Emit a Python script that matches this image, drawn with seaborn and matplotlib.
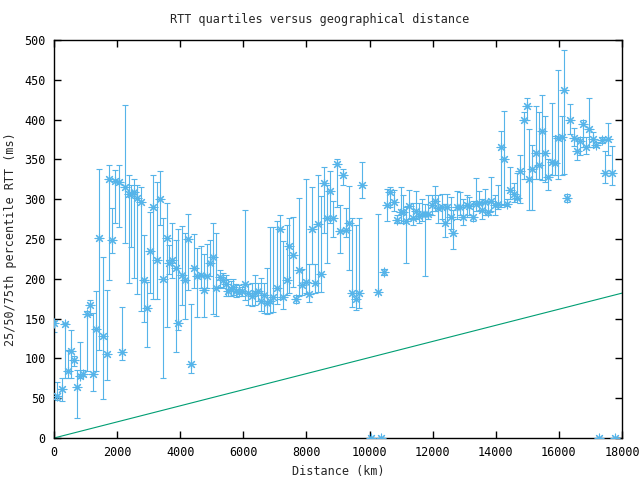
import matplotlib
matplotlib.use("Agg")
import matplotlib.pyplot as plt
import seaborn as sns
import numpy as np
import pandas as pd

# distance (km)
distance_km = [0, 105, 244, 349, 453, 529, 643, 738, 824, 929,
               1046, 1141, 1245, 1331, 1436, 1562, 1670, 1752, 1838, 1943,
               2050, 2164, 2260, 2367, 2431, 2545, 2640, 2767, 2862, 2957,
               3042, 3147, 3255, 3350, 3464, 3571, 3654, 3749, 3857, 3939,
               4066, 4161, 4256, 4351, 4446, 4541, 4658, 4763, 4858, 4953,
               5048, 5143, 5251, 5346, 5451, 5524, 5609, 5682, 5768, 5863,
               5948, 6053, 6157, 6265, 6370, 6455, 6560, 6655, 6759, 6845,
               6950, 7057, 7162, 7266, 7374, 7457, 7564, 7659, 7774, 7869,
               7976, 8071, 8166, 8262, 8376, 8461, 8566, 8661, 8756, 8851,
               8959, 9073, 9168, 9263, 9358, 9453, 9561, 9675, 9770, 10036,
               10277, 10372, 10467, 10562, 10657, 10765, 10879, 10996, 11069, 11155,
               11250, 11367, 11472, 11567, 11652, 11757, 11843, 11969, 12074, 12179,
               12286, 12381, 12464, 12571, 12654, 12762, 12866, 12971, 13079, 13161,
               13269, 13373, 13468, 13573, 13658, 13763, 13858, 13966, 14070, 14165,
               14261, 14365, 14460, 14577, 14682, 14768, 14894, 14980, 15053, 15158,
               15265, 15370, 15474, 15560, 15665, 15772, 15877, 15981, 16089, 16171,
               16266, 16361, 16488, 16583, 16678, 16773, 16869, 16964, 17090, 17176,
               17262, 17376, 17462, 17566, 17692, 17768]

# median RTT (ms)
rtt_median = [145, 53, 61, 143, 84, 109, 98, 64, 78, 80,
              156, 167, 80, 137, 251, 128, 105, 325, 249, 323,
              321, 108, 315, 307, 307, 309, 302, 297, 199, 163,
              235, 290, 224, 300, 200, 251, 220, 223, 213, 145,
              205, 198, 250, 93, 213, 204, 205, 186, 204, 220,
              227, 188, 202, 198, 193, 185, 187, 190, 185, 184,
              185, 194, 182, 179, 182, 185, 172, 180, 169, 172,
              177, 189, 263, 177, 198, 241, 230, 174, 211, 192,
              196, 181, 263, 195, 269, 206, 320, 277, 310, 276,
              344, 260, 330, 261, 270, 182, 174, 182, 318, 0,
              184, 0, 208, 293, 309, 297, 274, 284, 284, 272,
              291, 277, 285, 279, 281, 281, 281, 293, 298, 289,
              290, 270, 290, 278, 257, 290, 290, 278, 293, 292,
              278, 294, 295, 286, 296, 284, 298, 293, 294, 365,
              350, 294, 312, 307, 302, 335, 400, 417, 325, 338,
              358, 343, 386, 358, 328, 347, 345, 377, 378, 437,
              301, 399, 377, 361, 373, 395, 365, 388, 376, 368,
              0, 374, 333, 375, 333, 0]

# 25th percentile RTT (ms)
rtt_q1 = [133, 48, 46, 76, 76, 76, 90, 25, 75, 78,
          84, 155, 59, 84, 111, 49, 73, 198, 233, 270,
          265, 98, 245, 195, 240, 201, 181, 160, 146, 114,
          182, 175, 175, 268, 75, 140, 206, 201, 108, 136,
          167, 149, 186, 82, 189, 152, 188, 152, 188, 203,
          156, 153, 190, 189, 178, 178, 178, 180, 177, 178,
          178, 173, 167, 166, 167, 172, 160, 157, 156, 157,
          158, 168, 174, 162, 180, 182, 190, 170, 178, 180,
          182, 171, 218, 182, 184, 183, 257, 220, 270, 252,
          290, 233, 318, 252, 211, 165, 161, 163, 301, 0,
          184, 0, 205, 273, 290, 285, 270, 270, 270, 220,
          275, 268, 275, 270, 272, 204, 275, 280, 285, 270,
          275, 253, 270, 262, 237, 275, 280, 268, 278, 280,
          272, 285, 285, 275, 280, 280, 285, 280, 288, 290,
          293, 291, 300, 297, 300, 295, 325, 400, 287, 287,
          326, 326, 324, 322, 312, 330, 330, 326, 330, 332,
          296, 382, 367, 349, 355, 365, 357, 365, 365, 365,
          0, 370, 320, 355, 318, 0]

# 75th percentile RTT (ms)
rtt_q3 = [147, 70, 76, 145, 110, 136, 103, 86, 120, 86,
          159, 173, 157, 185, 338, 227, 186, 343, 289, 337,
          343, 164, 418, 330, 318, 325, 318, 315, 255, 196,
          284, 331, 321, 336, 277, 295, 242, 270, 249, 263,
          266, 258, 281, 168, 256, 239, 241, 231, 244, 249,
          270, 258, 211, 207, 205, 200, 197, 200, 194, 192,
          190, 287, 194, 195, 205, 195, 201, 195, 214, 265,
          265, 272, 280, 248, 268, 277, 278, 180, 301, 212,
          325, 218, 315, 218, 330, 304, 340, 318, 336, 298,
          350, 293, 338, 289, 316, 276, 267, 277, 347, 0,
          282, 0, 212, 313, 315, 312, 280, 315, 305, 290,
          312, 295, 310, 295, 300, 294, 305, 305, 316, 305,
          306, 294, 306, 303, 286, 310, 309, 300, 305, 303,
          298, 327, 310, 300, 313, 298, 328, 305, 318, 386,
          411, 300, 340, 320, 333, 355, 410, 427, 388, 368,
          417, 410, 431, 405, 350, 421, 380, 462, 405, 487,
          307, 419, 389, 376, 378, 400, 378, 427, 385, 372,
          0, 378, 360, 396, 367, 0]

# reference line endpoints (distance km, RTT ms)
line_x = [0, 18000]
line_y = [0, 182]

sns.set_theme(style="ticks")
plt.rcParams['font.family'] = ['DejaVu Sans Mono', 'DejaVu Sans']

blue = "#56b4e9"
green = "#009e73"

fig = plt.figure(figsize=(6.4, 4.8), dpi=100)
ax = fig.add_axes([54/640, 42/480, 568/640, 398/480])

df = pd.DataFrame({"d": distance_km, "m": rtt_median, "lo": rtt_q1, "hi": rtt_q3})
yerr = np.vstack([df["m"] - df["lo"], df["hi"] - df["m"]])
ax.errorbar(df["d"], df["m"], yerr=yerr, fmt="none", ecolor=blue,
            elinewidth=0.8, capsize=2.5, capthick=0.8, zorder=2)
sns.scatterplot(data=df, x="d", y="m", ax=ax, marker=(8, 2, 0), s=40,
                color=blue, edgecolor=blue, linewidth=0.8, zorder=3, legend=False)

lf = pd.DataFrame({"x": line_x, "y": line_y})
sns.lineplot(data=lf, x="x", y="y", ax=ax, color=green, linewidth=0.8, zorder=2)

ax.set_xlim(0, 18000)
ax.set_ylim(0, 500)
ax.set_xticks(range(0, 18001, 2000))
ax.set_yticks(range(0, 501, 50))
ax.tick_params(direction="in", length=5, width=1, top=True, right=True,
               labelsize=8.5, colors="black", pad=6)
for s in ax.spines.values():
    s.set_visible(True)
    s.set_linewidth(1.0)
    s.set_color("black")

ax.set_xlabel("Distance (km)", fontsize=8.5, labelpad=4)
ax.set_ylabel("25/50/75th percentile RTT (ms)", fontsize=8.5, labelpad=5)
fig.text(0.5, 1 - 20/480, "RTT quartiles versus geographical distance",
         ha="center", va="center", fontsize=8.5)

fig.savefig("out.png", dpi=100)
